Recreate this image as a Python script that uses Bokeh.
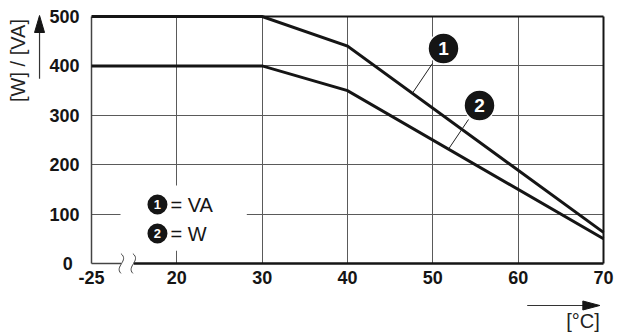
import numpy as np
from bokeh.plotting import figure
from bokeh.models import Range1d, FixedTicker
from bokeh.core.properties import value
from bokeh.embed import file_html
from bokeh.resources import INLINE

# ---- data ----
temps_c = [-25, 30, 40, 70]
power_va = [500, 500, 440, 63]
power_w = [400, 400, 350, 50]
series_ids = ["1", "2"]
series_names = ["VA", "W"]
x_ticks = [10, 20, 30, 40, 50, 60, 70]
x_tick_labels = ["-25", "20", "30", "40", "50", "60", "70"]
y_ticks = [0, 100, 200, 300, 400, 500]
y_tick_labels = ["", "100", "200", "300", "400", "500"]

BREAK_POS = 10  # axis break: -25 is drawn one grid step left of 20
xpos = [BREAK_POS if t < 20 else t for t in temps_c]

FONT = "Liberation Sans"
INK = "#151515"
GRID = "#5a5a5a"

W, H = 630, 334
L, R, T, B = 91, 27, 16, 71
PX_X = (W - L - R) / 60.0   # px per x unit
PX_Y = (H - T - B) / 500.0  # px per y unit

p = figure(width=W, height=H, x_range=Range1d(10, 70), y_range=Range1d(0, 500),
           output_backend="svg", toolbar_location=None,
           min_border_left=L, min_border_right=R, min_border_top=T, min_border_bottom=B)
p.outline_line_color = None
p.background_fill_color = "white"
p.border_fill_color = "white"

# axes
p.xaxis.ticker = FixedTicker(ticks=x_ticks)
p.xaxis.major_label_overrides = {t: l for t, l in zip(x_ticks, x_tick_labels)}
p.yaxis.ticker = FixedTicker(ticks=y_ticks)
p.yaxis.major_label_overrides = {t: l for t, l in zip(y_ticks, y_tick_labels)}
for ax in (p.xaxis, p.yaxis):
    ax.axis_line_color = None
    ax.major_tick_line_color = None
    ax.minor_tick_line_color = None
    ax.major_label_text_font = FONT
    ax.major_label_text_font_style = "bold"
    ax.major_label_text_font_size = "18px"
    ax.major_label_text_color = INK
p.xaxis.major_label_standoff = 1
p.yaxis.major_label_standoff = 6

# grid
p.xgrid.ticker = FixedTicker(ticks=[20, 30, 40, 50, 60])
p.ygrid.ticker = FixedTicker(ticks=[100, 200, 300, 400])
p.grid.grid_line_color = GRID
p.grid.grid_line_width = 1

# white area for the key (breaks the grid)
p.quad(left=13.4, right=28.2, bottom=26, top=158, fill_color="white", line_color=None)

# frame
p.segment(x0=[10], y0=[0], x1=[10], y1=[500], line_color="#444", line_width=1.5, level="overlay")
p.segment(x0=[30, 70], y0=[500, 0], x1=[70, 70], y1=[500, 500], line_color=INK, line_width=2, level="overlay")
p.segment(x0=[10], y0=[0], x1=[13.5], y1=[0], line_color="#444", line_width=1.5, level="overlay")
p.segment(x0=[14.95], y0=[0], x1=[70], y1=[0], line_color=INK, line_width=2.5, level="overlay")
# break marks
for bx in (13.55, 14.95):
    p.bezier(x0=[bx - 0.1], y0=[20], x1=[bx - 0.1], y1=[-20], cx0=[bx + 0.9], cy0=[6],
             cx1=[bx - 0.9], cy1=[-6], line_color="#444", line_width=1, level="overlay")

# data lines
p.line(xpos, power_va, line_color=INK, line_width=3, line_join="miter", level="overlay")
p.line(xpos, power_w, line_color=INK, line_width=3, line_join="miter", level="overlay")

# callouts
leader_x = [47.6, 51.84]
leader_y = [float(np.interp(leader_x[0], xpos, power_va)), float(np.interp(leader_x[1], xpos, power_w))]
p.segment(x0=[49.96, 54.18], y0=[405, 291.5], x1=leader_x, y1=leader_y,
          line_color="#222", line_width=1, level="overlay")
cx = [51.25, 55.47]
cy = [435.2, 319.8]
p.scatter(cx, cy, size=31, marker="circle", fill_color=INK, line_color="white", line_width=1.5, level="overlay")
p.text(cx, cy, text=series_ids, text_color="white", text_font=value(FONT), text_font_style="bold",
       text_font_size="19px", text_align="center", text_baseline="middle", level="overlay")

# key
kx = [17.73, 17.73]
ky = [119.4, 60.7]
p.scatter(kx, ky, size=20, marker="circle", fill_color=INK, line_color=None, level="overlay")
p.text(kx, ky, text=series_ids, text_color="white", text_font=value(FONT), text_font_style="bold",
       text_font_size="13px", text_align="center", text_baseline="middle", level="overlay")
p.text([19.26, 19.26], ky, text=["= " + n for n in series_names], text_color=INK,
       text_font=value(FONT), text_font_size="20px", text_align="left", text_baseline="middle",
       level="overlay")

# zero label (offset to the left like the original)
p.text([7.8], [0], text=["0"], text_color=INK, text_font=value(FONT), text_font_style="bold",
       text_font_size="18px", text_align="right", text_baseline="middle", level="overlay")

# axis titles with arrows (drawn as overlay glyphs outside the frame)
p.text([1.39], [411], text=["[W] / [VA]"], angle=np.pi / 2, text_color="#222",
       text_font=value(FONT), text_font_size="20px", text_align="center", text_baseline="middle",
       level="overlay")
p.text([67.6], [-115.4], text=["[°C]"], text_color="#222",
       text_font=value(FONT), text_font_size="20px", text_align="center", text_baseline="middle",
       level="overlay")

def dx(px):
    return px / PX_X

def dy(px):
    return px / PX_Y

# vertical arrow
ax_x, ay0, ay1 = 3.91, 374, 502
p.segment(x0=[ax_x], y0=[ay0], x1=[ax_x], y1=[ay1 - dy(12)], line_color="#333", line_width=1.2, level="overlay")
p.patch([ax_x - dx(5), ax_x + dx(5), ax_x], [ay1 - dy(17), ay1 - dy(17), ay1], color=INK, level="overlay")
# horizontal arrow
hy, hx0, hx1 = -85, 61.06, 69.57
p.segment(x0=[hx0], y0=[hy], x1=[hx1 - dx(12)], y1=[hy], line_color="#333", line_width=1.2, level="overlay")
p.patch([hx1 - dx(17), hx1 - dx(17), hx1], [hy - dy(4.5), hy + dy(4.5), hy], color=INK, level="overlay")

open("out.html", "w").write(file_html(p, INLINE))
